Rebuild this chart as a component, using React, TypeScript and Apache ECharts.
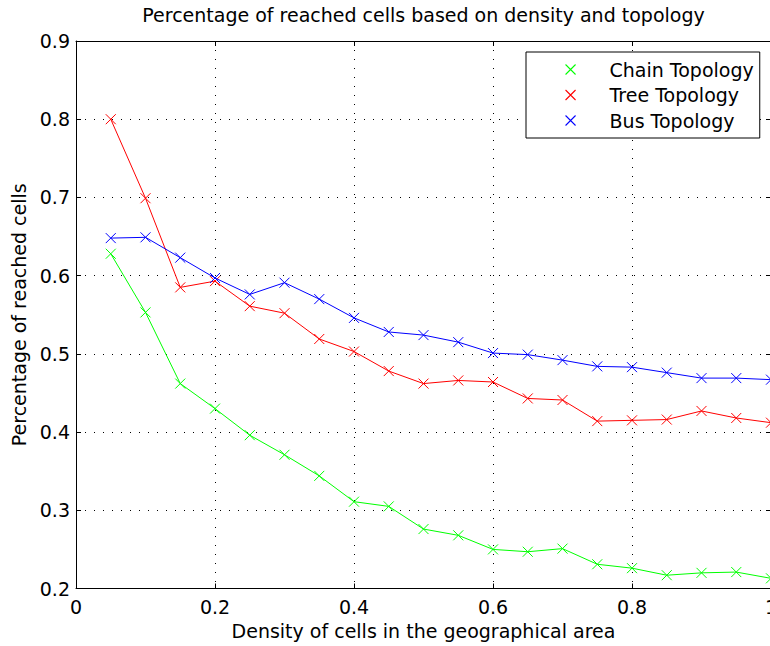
import React, { useEffect, useRef } from "react";
import * as echarts from "echarts";

const densities = [0.05, 0.1, 0.15, 0.2, 0.25, 0.3, 0.35, 0.4, 0.45, 0.5, 0.55, 0.6, 0.65, 0.7, 0.75, 0.8, 0.85, 0.9, 0.95, 1.0];
const chainTopology = [0.628, 0.553, 0.462, 0.430, 0.396, 0.371, 0.344, 0.311, 0.305, 0.276, 0.268, 0.250, 0.247, 0.251, 0.231, 0.226, 0.217, 0.220, 0.221, 0.213];
const treeTopology = [0.800, 0.699, 0.585, 0.593, 0.561, 0.552, 0.519, 0.503, 0.478, 0.462, 0.466, 0.464, 0.443, 0.441, 0.414, 0.415, 0.416, 0.427, 0.418, 0.412];
const busTopology = [0.648, 0.649, 0.623, 0.597, 0.576, 0.591, 0.570, 0.546, 0.528, 0.524, 0.515, 0.501, 0.499, 0.492, 0.484, 0.483, 0.476, 0.469, 0.469, 0.467];

const seriesNames = ["Chain Topology", "Tree Topology", "Bus Topology"];
const seriesColors = ["#00ff00", "#ff0000", "#0000ff"];
const seriesValues = [chainTopology, treeTopology, busTopology];

const titleText = "Percentage of reached cells based on density and topology";
const xAxisName = "Density of cells in the geographical area";
const yAxisName = "Percentage of reached cells";

const FONT = "DejaVu Sans";
const CROSS = "path://M0,0L10,10M10,0L0,10";

export default function App() {
  const ref = useRef<HTMLDivElement>(null);

  useEffect(() => {
    if (!ref.current) return;
    const chart = echarts.init(ref.current, null, { renderer: "svg" });

    const axisCommon = {
      axisLine: { show: true, onZero: false, lineStyle: { color: "#000", width: 1 } },
      axisTick: { show: true, inside: true, length: 5, lineStyle: { color: "#000", width: 1 } },
    };

    const option: any = {
      animation: false,
      backgroundColor: "#fff",
      title: {
        text: titleText,
        left: 423.5,
        top: 5,
        textAlign: "center",
        padding: 0,
        textStyle: { fontFamily: FONT, fontSize: 19, fontWeight: "normal", color: "#000" },
      },
      grid: {
        left: 76,
        top: 41,
        right: -1,
        bottom: 57.5,
        show: false,
        outerBoundsMode: "none",
        containLabel: false,
      },
      legend: {
        orient: "vertical",
        left: 526,
        top: 52,
        padding: [8, 6, 8, 39],
        itemGap: 6.5,
        itemWidth: 10,
        itemHeight: 10,
        icon: CROSS,
        selectedMode: false,
        backgroundColor: "#fff",
        borderColor: "#000",
        borderWidth: 1,
        borderRadius: 0,
        textStyle: { fontFamily: FONT, fontSize: 19, color: "#000", lineHeight: 19, padding: [0, 0, 0, 29] },
        data: seriesNames.map((n, i) => ({
          name: n,
          icon: CROSS,
          itemStyle: { color: seriesColors[i], borderColor: seriesColors[i], borderWidth: 1.1 },
        })),
      },
      xAxis: [
        {
          type: "value",
          position: "bottom",
          min: 0,
          max: 1,
          interval: 0.2,
          ...axisCommon,
          axisLabel: { margin: 9, color: "#000", fontFamily: FONT, fontSize: 19 },
          splitLine: { show: true, lineStyle: { color: "#000", width: 1, type: [1, 8] } },
          name: xAxisName,
          nameLocation: "middle",
          nameGap: 33,
          nameTextStyle: { fontFamily: FONT, fontSize: 19, color: "#000" },
        },
        {
          type: "value",
          position: "top",
          min: 0,
          max: 1,
          interval: 0.2,
          ...axisCommon,
          axisLabel: { show: false },
          splitLine: { show: false },
        },
      ],
      yAxis: [
        {
          type: "value",
          position: "left",
          min: 0.2,
          max: 0.9,
          interval: 0.1,
          ...axisCommon,
          axisLabel: { margin: 6, color: "#000", fontFamily: FONT, fontSize: 19 },
          splitLine: { show: true, lineStyle: { color: "#000", width: 1, type: [1, 8] } },
          name: yAxisName,
          nameLocation: "middle",
          nameGap: 45,
          nameTextStyle: { fontFamily: FONT, fontSize: 19, color: "#000" },
        },
        {
          type: "value",
          position: "right",
          min: 0.2,
          max: 0.9,
          interval: 0.1,
          ...axisCommon,
          axisLabel: { show: false },
          splitLine: { show: false },
        },
      ],
      series: seriesNames.map((name, i) => ({
        name,
        type: "line",
        xAxisIndex: 0,
        yAxisIndex: 0,
        data: densities.map((d, j) => [d, seriesValues[i][j]]),
        symbol: CROSS,
        symbolSize: 10,
        showSymbol: true,
        showAllSymbol: true,
        color: seriesColors[i],
        lineStyle: { color: seriesColors[i], width: 1 },
        itemStyle: { color: "rgba(0,0,0,0)", borderColor: seriesColors[i], borderWidth: 1 },
        emphasis: { disabled: true },
        z: 2 + i,
      })),
    };

    chart.setOption(option);
    return () => chart.dispose();
  }, []);

  return (
    <div
      ref={ref}
      style={{ position: "absolute", left: 0, top: 0, width: 770, height: 646, background: "#fff" }}
    />
  );
}
